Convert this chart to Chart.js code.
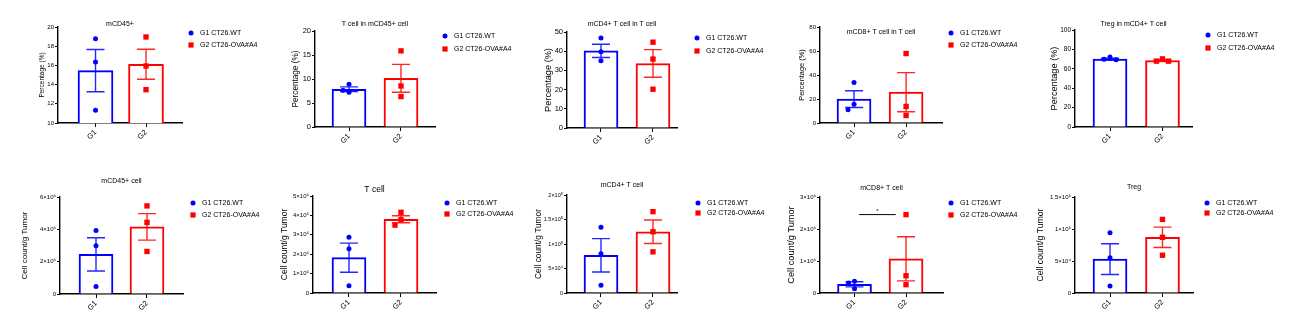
<!DOCTYPE html>
<html>
<head>
<meta charset="utf-8">
<script src="https://cdn.jsdelivr.net/npm/chart.js@4.4.1/dist/chart.umd.min.js"></script>
<style>
  html, body { margin: 0; padding: 0; background: #fff; }
  #wrap { position: relative; width: 1297px; height: 331px; overflow: hidden; background: #fff; }
  #wrap canvas { position: absolute; }
</style>
</head>
<body>
<div id="wrap"></div>
<script>
// ---- groups ----
const groups = ['G1', 'G2'];
const groupNames = ['G1 CT26.WT', 'G2 CT26-OVA#A4'];
const groupColors = ['#0000ff', '#ff0000'];

// ---- frequencies (%) ----
const cd45PctMean = [15.45, 16.12];
const cd45PctSem = [2.2, 1.56];
const cd45PctG1 = [18.78, 16.35, 11.32];
const cd45PctG2 = [18.96, 15.94, 13.47];
const cd45PctTicks = [10, 12, 14, 16, 18, 20];

const tcellPctMean = [7.86, 10.14];
const tcellPctSem = [0.5, 2.9];
const tcellPctG1 = [8.9, 7.24, 7.66];
const tcellPctG2 = [15.86, 8.55, 6.34];
const tcellPctTicks = [0, 5, 10, 15, 20];

const cd4PctMean = [40.2, 33.6];
const cd4PctSem = [3.45, 7.2];
const cd4PctG1 = [46.9, 39.7, 35.0];
const cd4PctG2 = [44.7, 35.9, 20.2];
const cd4PctTicks = [0, 10, 20, 30, 40, 50];

const cd8PctMean = [19.9, 25.7];
const cd8PctSem = [7.0, 16.3];
const cd8PctG1 = [33.7, 15.7, 11.0];
const cd8PctG2 = [57.9, 13.8, 6.3];
const cd8PctTicks = [0, 20, 40, 60, 80];

const tregPctMean = [70.0, 68.6];
const tregPctSem = [0.9, 0.8];
const tregPctG1 = [69.8, 72.2, 69.3];
const tregPctG2 = [67.9, 70.2, 67.9];
const tregPctTicks = [0, 20, 40, 60, 80, 100];

// ---- counts per gram of tumor ----
const cd45CountMean = [2.45e6, 4.15e6];
const cd45CountSem = [1.03e6, 0.82e6];
const cd45CountG1 = [3.93e6, 2.98e6, 0.46e6];
const cd45CountG2 = [5.45e6, 4.43e6, 2.63e6];
const cd45CountTicks = [0, 2e6, 4e6, 6e6];
const cd45CountTickLabels = ['0', '2×10⁶', '4×10⁶', '6×10⁶'];

const tcellCountMean = [1.82e5, 3.80e5];
const tcellCountSem = [0.75e5, 0.18e5];
const tcellCountG1 = [2.87e5, 2.28e5, 0.38e5];
const tcellCountG2 = [4.16e5, 3.78e5, 3.50e5];
const tcellCountTicks = [0, 1e5, 2e5, 3e5, 4e5, 5e5];
const tcellCountTickLabels = ['0', '1×10⁵', '2×10⁵', '3×10⁵', '4×10⁵', '5×10⁵'];

const cd4CountMean = [0.77e5, 1.25e5];
const cd4CountSem = [0.34e5, 0.24e5];
const cd4CountG1 = [1.34e5, 0.80e5, 0.16e5];
const cd4CountG2 = [1.66e5, 1.25e5, 0.84e5];
const cd4CountTicks = [0, 5e4, 1e5, 1.5e5, 2e5];
const cd4CountTickLabels = ['0', '5×10⁴', '1×10⁵', '1.5×10⁵', '2×10⁵'];

const cd8CountMean = [0.27e5, 1.07e5];
const cd8CountSem = [0.08e5, 0.69e5];
const cd8CountG1 = [0.31e5, 0.37e5, 0.13e5];
const cd8CountG2 = [2.45e5, 0.54e5, 0.26e5];
const cd8CountTicks = [0, 1e5, 2e5, 3e5];
const cd8CountTickLabels = ['0', '1×10⁵', '2×10⁵', '3×10⁵'];
const cd8CountSigLevel = 2.45e5;
const cd8CountSigText = '*';

const tregCountMean = [0.53e5, 0.87e5];
const tregCountSem = [0.24e5, 0.16e5];
const tregCountG1 = [0.94e5, 0.55e5, 0.11e5];
const tregCountG2 = [1.15e5, 0.87e5, 0.59e5];
const tregCountTicks = [0, 5e4, 1e5, 1.5e5];
const tregCountTickLabels = ['0', '5×10⁴', '1×10⁵', '1.5×10⁵'];

const pctTitle = 'Percentage (%)';
const countTitle = 'Cell count/g Tumor';

const panels = [
  { title: 'mCD45+', yTitle: pctTitle, mean: cd45PctMean, sem: cd45PctSem, pts: [cd45PctG1, cd45PctG2], ticks: cd45PctTicks, labels: cd45PctTicks.map(String) },
  { title: 'T cell in mCD45+ cell', yTitle: pctTitle, mean: tcellPctMean, sem: tcellPctSem, pts: [tcellPctG1, tcellPctG2], ticks: tcellPctTicks, labels: tcellPctTicks.map(String) },
  { title: 'mCD4+ T cell in T cell', yTitle: pctTitle, mean: cd4PctMean, sem: cd4PctSem, pts: [cd4PctG1, cd4PctG2], ticks: cd4PctTicks, labels: cd4PctTicks.map(String) },
  { title: 'mCD8+ T cell in T cell', yTitle: pctTitle, mean: cd8PctMean, sem: cd8PctSem, pts: [cd8PctG1, cd8PctG2], ticks: cd8PctTicks, labels: cd8PctTicks.map(String) },
  { title: 'Treg in mCD4+ T cell', yTitle: pctTitle, mean: tregPctMean, sem: tregPctSem, pts: [tregPctG1, tregPctG2], ticks: tregPctTicks, labels: tregPctTicks.map(String) },
  { title: 'mCD45+ cell', yTitle: countTitle, mean: cd45CountMean, sem: cd45CountSem, pts: [cd45CountG1, cd45CountG2], ticks: cd45CountTicks, labels: cd45CountTickLabels },
  { title: 'T cell', yTitle: countTitle, mean: tcellCountMean, sem: tcellCountSem, pts: [tcellCountG1, tcellCountG2], ticks: tcellCountTicks, labels: tcellCountTickLabels },
  { title: 'mCD4+ T cell', yTitle: countTitle, mean: cd4CountMean, sem: cd4CountSem, pts: [cd4CountG1, cd4CountG2], ticks: cd4CountTicks, labels: cd4CountTickLabels },
  { title: 'mCD8+ T cell', yTitle: countTitle, mean: cd8CountMean, sem: cd8CountSem, pts: [cd8CountG1, cd8CountG2], ticks: cd8CountTicks, labels: cd8CountTickLabels,
    sig: { level: cd8CountSigLevel, text: cd8CountSigText, from: 0.09, to: 0.8 } },
  { title: 'Treg', yTitle: countTitle, mean: tregCountMean, sem: tregCountSem, pts: [tregCountG1, tregCountG2], ticks: tregCountTicks, labels: tregCountTickLabels }
];

// ---- page layout of each small plot (pixels); canvases are transparent and may overlap ----
const frames = [
  { x: 0,    y: 0,   w: 275, h: 165, axisX: 58,   top: 27,  bottom: 123, xEnd: 182,  xMin: -0.743, xMax: 1.713, barW: 35, titleY: 24,  legX: 191,  legY: [33, 45],   yTitleOff: 16, yTitleSize: 6.5, tickSize: 6,   titleSize: 7 },
  { x: 260,  y: 0,   w: 275, h: 165, axisX: 315,  top: 31,  bottom: 127, xEnd: 435,  xMin: -0.654, xMax: 1.654, barW: 34, titleY: 24,  legX: 445,  legY: [36, 49],   yTitleOff: 19, yTitleSize: 8.2, tickSize: 7.5, titleSize: 7 },
  { x: 520,  y: 0,   w: 275, h: 165, axisX: 567,  top: 32,  bottom: 128, xEnd: 677,  xMin: -0.654, xMax: 1.462, barW: 34, titleY: 24,  legX: 697,  legY: [38, 51],   yTitleOff: 19, yTitleSize: 9.2, tickSize: 7.5, titleSize: 7 },
  { x: 780,  y: 0,   w: 265, h: 165, axisX: 820,  top: 27,  bottom: 123, xEnd: 942,  xMin: -0.654, xMax: 1.690, barW: 34, titleY: 32,  legX: 951,  legY: [33, 45],   yTitleOff: 18, yTitleSize: 7.4, tickSize: 6,   titleSize: 7 },
  { x: 1030, y: 0,   w: 267, h: 165, axisX: 1075, top: 30,  bottom: 127, xEnd: 1192, xMin: -0.667, xMax: 1.562, barW: 34, titleY: 24,  legX: 1208, legY: [35, 48],   yTitleOff: 21, yTitleSize: 9.2, tickSize: 6.5, titleSize: 7 },
  { x: 0,    y: 165, w: 275, h: 166, axisX: 60,   top: 197, bottom: 294, xEnd: 183,  xMin: -0.706, xMax: 1.706, barW: 34, titleY: 181, legX: 193,  legY: [203, 215], yTitleOff: 35, yTitleSize: 8.1, tickSize: 6,   titleSize: 7 },
  { x: 260,  y: 165, w: 275, h: 166, axisX: 313,  top: 196, bottom: 293, xEnd: 436,  xMin: -0.692, xMax: 1.673, barW: 34, titleY: 190, legX: 447,  legY: [203, 214], yTitleOff: 28, yTitleSize: 8.5, tickSize: 6,   titleSize: 8.5 },
  { x: 520,  y: 165, w: 275, h: 166, axisX: 567,  top: 195, bottom: 293, xEnd: 677,  xMin: -0.654, xMax: 1.462, barW: 34, titleY: 185, legX: 698,  legY: [203, 213], yTitleOff: 28, yTitleSize: 8.3, tickSize: 5.5, titleSize: 7 },
  { x: 780,  y: 165, w: 265, h: 166, axisX: 820,  top: 197, bottom: 293, xEnd: 943,  xMin: -0.670, xMax: 1.718, barW: 34, titleY: 188, legX: 951,  legY: [203, 215], yTitleOff: 29, yTitleSize: 9.2, tickSize: 6,   titleSize: 7 },
  { x: 1030, y: 165, w: 267, h: 166, axisX: 1075, top: 197, bottom: 293, xEnd: 1193, xMin: -0.667, xMax: 1.581, barW: 34, titleY: 187, legX: 1207, legY: [203, 213], yTitleOff: 34, yTitleSize: 8.7, tickSize: 6,   titleSize: 7 }
];

const FONT = "'Liberation Sans', Arial, sans-serif";
const INK = '#000';
const DOT = 6; // marker diameter used to separate overlapping replicates

// Spread replicate markers sideways when they would overlap vertically.
function spreadOffsets(values, pxPerY, pxPerX) {
  const order = values.map((v, i) => i).sort((a, b) => values[b] - values[a]);
  const slots = [0, -1, 1, -2, 2];
  const placed = [];
  const offs = values.map(() => 0);
  order.forEach(i => {
    for (const s of slots) {
      const clash = placed.some(p => p.s === s && Math.abs(p.v - values[i]) * pxPerY < DOT);
      if (!clash) {
        offs[i] = s * DOT / pxPerX;
        placed.push({ s, v: values[i] });
        break;
      }
    }
  });
  return offs;
}

const decorPlugin = {
  id: 'decor',
  afterDatasetDraw(chart, args, opts) {
    if (args.index !== 0) return;
    const { p } = opts;
    const xs = chart.scales.x, ys = chart.scales.y, ctx = chart.ctx;
    ctx.save();
    p.mean.forEach((m, i) => {
      const x = xs.getPixelForValue(i);
      const yHi = ys.getPixelForValue(m + p.sem[i]);
      const yLo = ys.getPixelForValue(m - p.sem[i]);
      ctx.strokeStyle = groupColors[i];
      ctx.globalAlpha = 0.85;
      ctx.lineWidth = 1.4;
      ctx.beginPath();
      ctx.moveTo(x, yHi); ctx.lineTo(x, yLo);
      ctx.moveTo(x - 9, yHi); ctx.lineTo(x + 9, yHi);
      ctx.moveTo(x - 9, yLo); ctx.lineTo(x + 9, yLo);
      ctx.stroke();
    });
    ctx.restore();
  },
  afterDraw(chart, args, opts) {
    const { p, f } = opts;
    const ctx = chart.ctx, area = chart.chartArea;
    const ox = f.x, oy = f.y;
    ctx.save();
    ctx.fillStyle = INK;
    // title
    ctx.font = `${f.titleSize}px ${FONT}`;
    ctx.textAlign = 'center';
    ctx.textBaseline = 'middle';
    ctx.fillText(p.title, (area.left + area.right) / 2, f.titleY - oy);
    // y axis title
    ctx.save();
    ctx.translate(f.axisX - f.yTitleOff - ox, (area.top + area.bottom) / 2);
    ctx.rotate(-Math.PI / 2);
    ctx.font = `${f.yTitleSize}px ${FONT}`;
    ctx.fillText(p.yTitle, 0, 0);
    ctx.restore();
    // legend
    ctx.font = `7px ${FONT}`;
    ctx.textAlign = 'left';
    groupNames.forEach((name, g) => {
      const lx = f.legX - ox, ly = f.legY[g] - oy;
      ctx.fillStyle = groupColors[g];
      if (g === 0) {
        ctx.beginPath(); ctx.arc(lx, ly, 2.5, 0, Math.PI * 2); ctx.fill();
      } else {
        ctx.fillRect(lx - 2.6, ly - 2.6, 5.2, 5.2);
      }
      ctx.fillStyle = INK;
      ctx.fillText(name, lx + 9, ly + 0.5);
    });
    // significance bracket
    if (p.sig) {
      const xs = chart.scales.x, ys = chart.scales.y;
      const y = ys.getPixelForValue(p.sig.level);
      ctx.strokeStyle = '#000';
      ctx.lineWidth = 1;
      ctx.beginPath();
      ctx.moveTo(xs.getPixelForValue(p.sig.from), y);
      ctx.lineTo(xs.getPixelForValue(p.sig.to), y);
      ctx.stroke();
      ctx.fillStyle = INK;
      ctx.font = `6px ${FONT}`;
      ctx.textAlign = 'center';
      ctx.textBaseline = 'bottom';
      ctx.fillText(p.sig.text, xs.getPixelForValue((p.sig.from + p.sig.to) / 2), y - 0.5);
    }
    ctx.restore();
  }
};

const wrap = document.getElementById('wrap');

panels.forEach((p, k) => {
  const f = frames[k];
  const cv = document.createElement('canvas');
  cv.width = f.w; cv.height = f.h;
  cv.style.left = f.x + 'px'; cv.style.top = f.y + 'px';
  cv.style.width = f.w + 'px'; cv.style.height = f.h + 'px';
  wrap.appendChild(cv);

  const yMin = p.ticks[0], yMax = p.ticks[p.ticks.length - 1];
  const pxPerY = (f.bottom - f.top) / (yMax - yMin);
  const pxPerX = (f.xEnd - f.axisX) / (f.xMax - f.xMin);

  const pointSets = p.pts.map((vals, g) => {
    const offs = spreadOffsets(vals, pxPerY, pxPerX);
    return {
      type: 'scatter',
      order: 1,
      data: vals.map((v, i) => ({ x: g + offs[i], y: v })),
      pointStyle: g === 0 ? 'circle' : 'rect',
      pointRadius: g === 0 ? 2.5 : 3.8,
      pointBackgroundColor: groupColors[g],
      pointBorderWidth: 0,
      clip: false
    };
  });

  new Chart(cv, {
    type: 'bar',
    data: {
      datasets: [
        {
          type: 'bar',
          order: 3,
          data: p.mean.map((m, i) => ({ x: i, y: m })),
          backgroundColor: '#ffffff',
          borderColor: groupColors,
          borderWidth: 2,
          borderSkipped: 'start',
          barThickness: f.barW
        },
        ...pointSets
      ]
    },
    options: {
      responsive: false,
      devicePixelRatio: 1,
      animation: false,
      events: [],
      layout: {
        padding: { left: 0, top: f.top - f.y, right: f.x + f.w - f.xEnd, bottom: 0 }
      },
      plugins: {
        legend: { display: false },
        title: { display: false },
        tooltip: { enabled: false },
        decor: { p, f }
      },
      scales: {
        x: {
          type: 'linear',
          min: f.xMin,
          max: f.xMax,
          offset: false,
          afterFit: s => { s.height = f.y + f.h - f.bottom; },
          afterBuildTicks: s => { s.ticks = groups.map((g, i) => ({ value: i })); },
          grid: { display: true, offset: false, drawOnChartArea: false, drawTicks: true, tickLength: 4, color: '#000', lineWidth: 1 },
          border: { display: true, color: '#000', width: 1.4 },
          ticks: {
            color: INK,
            font: { family: FONT, size: 7.5 },
            minRotation: 45,
            maxRotation: 45,
            padding: 1,
            callback: v => groups[v]
          }
        },
        y: {
          type: 'linear',
          min: yMin,
          max: yMax,
          afterFit: s => { s.width = f.axisX - f.x; },
          afterBuildTicks: s => { s.ticks = p.ticks.map(v => ({ value: v })); },
          grid: { display: true, drawOnChartArea: false, drawTicks: true, tickLength: 3, color: '#000', lineWidth: 1 },
          border: { display: true, color: '#000', width: 1.4 },
          ticks: {
            color: INK,
            font: { family: FONT, size: f.tickSize },
            padding: 1,
            callback: (v, i) => p.labels[i]
          }
        }
      }
    },
    plugins: [decorPlugin]
  });
});
</script>
</body>
</html>
